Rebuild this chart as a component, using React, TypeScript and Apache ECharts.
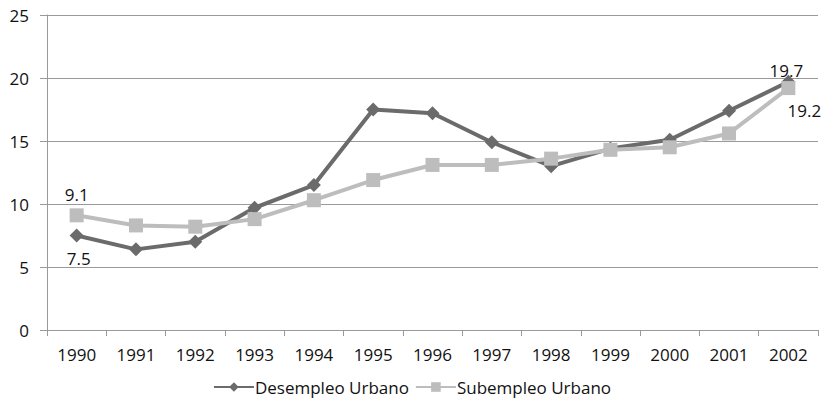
import React, { useEffect, useRef } from "react";
import * as echarts from "echarts";

const years = ["1990","1991","1992","1993","1994","1995","1996","1997","1998","1999","2000","2001","2002"];
const desempleo = [7.5, 6.4, 7.0, 9.7, 11.5, 17.5, 17.2, 14.9, 13.0, 14.4, 15.1, 17.4, 19.7];
const subempleo = [9.1, 8.3, 8.2, 8.8, 10.3, 11.9, 13.1, 13.1, 13.6, 14.3, 14.5, 15.6, 19.2];

const FONT = "'Open Sans', 'Liberation Sans', sans-serif";
const FS = 17;

export default function App() {
  const ref = useRef<HTMLDivElement>(null);
  useEffect(() => {
    if (!ref.current) return;
    const chart = echarts.init(ref.current, undefined, { renderer: "svg" });
    const lbl = (position: string, offset: number[]) => ({
      show: true, position, offset, formatter: "{c}", color: "#111", fontSize: FS, fontFamily: FONT,
    });
    const desData = desempleo.map((v, i) =>
      i === 0 ? { value: v, label: lbl("bottom", [2, 2]) } :
      i === desempleo.length - 1 ? { value: v, label: lbl("top", [-2, 9]) } : v);
    const subData = subempleo.map((v, i) =>
      i === 0 ? { value: v, label: lbl("top", [0, 0]) } :
      i === subempleo.length - 1 ? { value: v, label: lbl("bottom", [16, 2]) } : v);
    chart.setOption({
      animation: false,
      textStyle: { fontFamily: FONT },
      grid: { left: 47, right: 6, top: 15, bottom: 73, containLabel: false },
      legend: {
        top: 378,
        left: "center",
        padding: 0,
        itemWidth: 40,
        itemHeight: 12,
        itemGap: 6,
        textStyle: { fontSize: FS, lineHeight: 18, color: "#111", fontFamily: FONT, padding: [0, 0, 0, -4] },
        data: ["Desempleo Urbano", "Subempleo Urbano"],
      },
      xAxis: {
        type: "category",
        data: years,
        boundaryGap: true,
        axisLine: { lineStyle: { color: "#9a9a9a", width: 1 } },
        axisTick: { show: true, length: 6, lineStyle: { color: "#9a9a9a" } },
        axisLabel: { color: "#111", fontSize: FS, margin: 16, fontFamily: FONT },
      },
      yAxis: {
        type: "value",
        min: 0,
        max: 25,
        interval: 5,
        axisLine: { show: true, lineStyle: { color: "#9a9a9a", width: 1 } },
        axisTick: { show: true, length: 7, lineStyle: { color: "#9a9a9a" } },
        axisLabel: { color: "#111", fontSize: FS, margin: 18, fontFamily: FONT },
        splitLine: { lineStyle: { color: "#9a9a9a", width: 1 } },
      },
      series: [
        {
          name: "Desempleo Urbano",
          type: "line",
          data: desData,
          symbol: "diamond",
          symbolSize: 14,
          lineStyle: { color: "#6b6b6b", width: 4 },
          itemStyle: { color: "#6b6b6b" },
          z: 3,
        },
        {
          name: "Subempleo Urbano",
          type: "line",
          data: subData,
          symbol: "rect",
          symbolSize: 14,
          lineStyle: { color: "#bdbdbd", width: 4 },
          itemStyle: { color: "#bdbdbd" },
          z: 4,
        },
      ],
    });
    return () => chart.dispose();
  }, []);
  return <div ref={ref} style={{ width: 824, height: 403, position: "absolute", left: 0, top: 0 }} />;
}
